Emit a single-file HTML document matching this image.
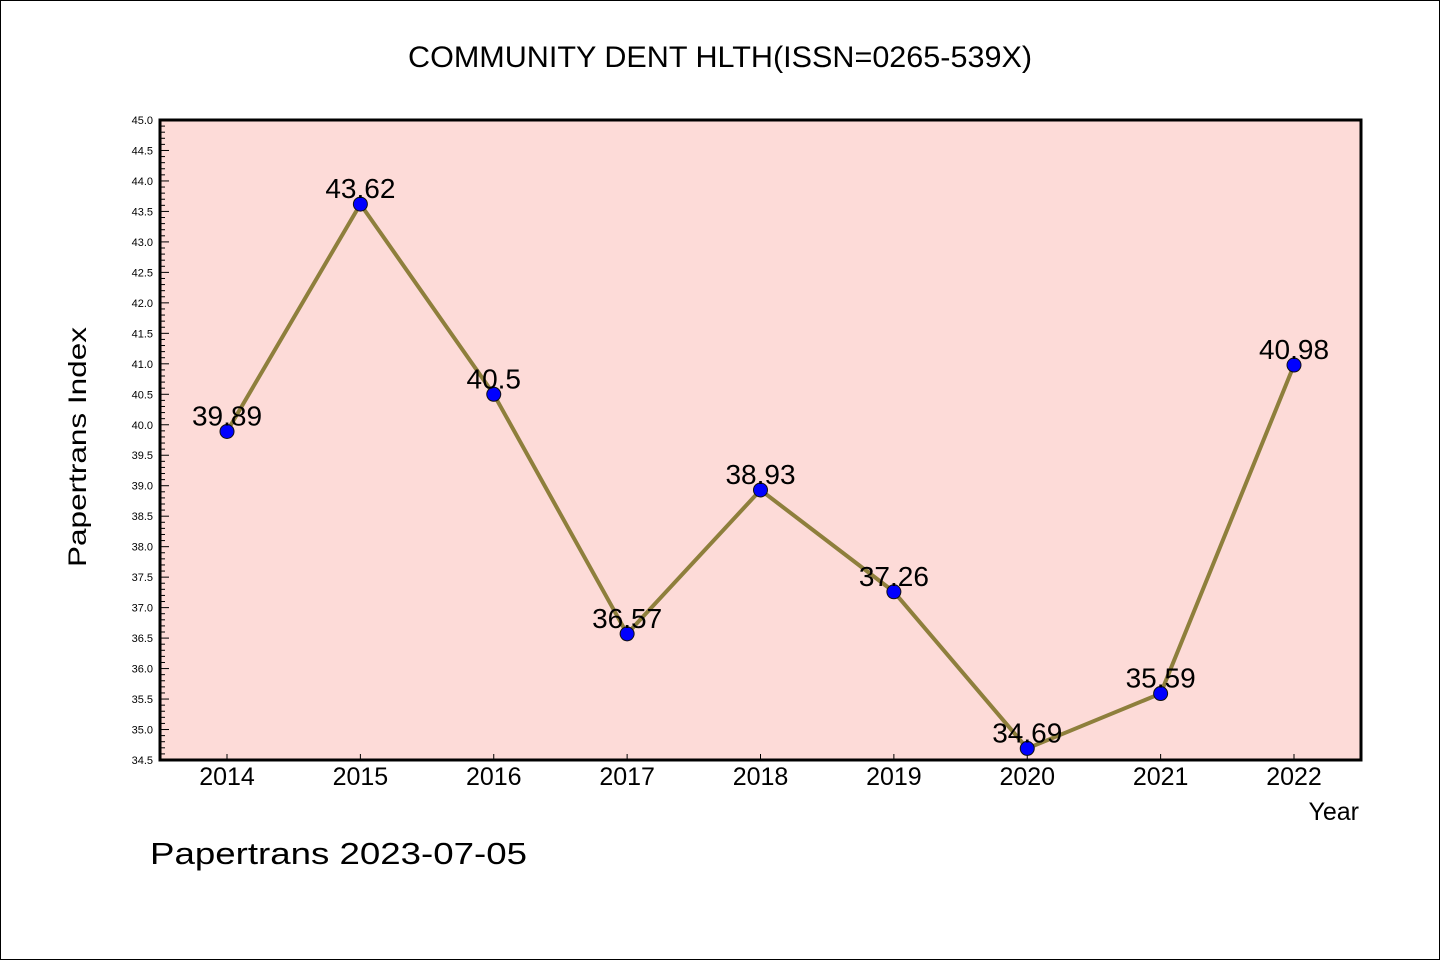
<!DOCTYPE html>
<html><head><meta charset="utf-8"><style>
html,body{margin:0;padding:0;background:#fff}
svg{display:block}
text{font-family:"WenQuanYi Zen Hei","Liberation Sans",sans-serif;fill:#000}
</style></head><body>
<svg id="chart" width="1440" height="960">
<rect x="0.5" y="0.5" width="1439" height="959" fill="#fff" stroke="#000"/>
<text x="720" y="67" text-anchor="middle" font-size="30" textLength="624" lengthAdjust="spacingAndGlyphs">COMMUNITY DENT HLTH(ISSN=0265-539X)</text>
<rect x="160" y="120" width="1201" height="640" fill="#fddbd8"/>
<g id="ticks"></g>
<g id="series"></g>
<rect x="160" y="120" width="1201" height="640" fill="none" stroke="#000" stroke-width="3"/>
<text x="86" y="447" font-size="25" text-anchor="middle" transform="rotate(-90 86 447)" textLength="240" lengthAdjust="spacingAndGlyphs">Papertrans Index</text>
<text x="1359" y="820" font-size="25" text-anchor="end">Year</text>
<text x="150" y="864" font-size="31" textLength="377" lengthAdjust="spacingAndGlyphs">Papertrans 2023-07-05</text>
</svg>
<script>
const years=["2014","2015","2016","2017","2018","2019","2020","2021","2022"];
const values=[39.89,43.62,40.5,36.57,38.93,37.26,34.69,35.59,40.98];
const labels=["39.89","43.62","40.5","36.57","38.93","37.26","34.69","35.59","40.98"];
const yMin=34.5,yMax=45.0;
const NS="http://www.w3.org/2000/svg";
const L=160,R=1361,T=120,B=760;
function y(v){return B-(v-yMin)/(yMax-yMin)*(B-T);}
function x(i){return 227+i*(1294-227)/(years.length-1);}
function mk(tag,attrs,parent){const e=document.createElementNS(NS,tag);for(const k in attrs)e.setAttribute(k,attrs[k]);parent.appendChild(e);return e;}
const tg=document.getElementById('ticks');
for(let k=0;k<=Math.round((yMax-yMin)*10);k++){
  const v=yMin+k/10, yy=y(v), major=k%5===0;
  const t=mk('line',{x1:L,x2:L+(major?9:5),y1:yy,y2:yy,stroke:'#000','stroke-width':1},tg);
  
  
  if(major){
    const tx=mk('text',{x:153,y:yy+4,'font-size':11,'text-anchor':'end'},tg);
    tx.textContent=v.toFixed(1);
    
    
  }
}
years.forEach((yr,i)=>{
  const t=mk('line',{x1:x(i),x2:x(i),y1:B,y2:B-6,stroke:'#000','stroke-width':1},tg);
  
  
  const tx=mk('text',{x:x(i),y:785,'font-size':25,'text-anchor':'middle'},tg);
  tx.textContent=yr;
  
  
});
const sg=document.getElementById('series');
const line=mk('polyline',{points:values.map((v,i)=>x(i)+','+y(v)).join(' '),fill:'none',stroke:'#8e7f3c','stroke-width':4,'stroke-linejoin':'round'},sg);


values.forEach((v,i)=>{
  const c=mk('circle',{cx:x(i),cy:y(v),r:7,fill:'#0000ff',stroke:'#111','stroke-width':1},sg);
  
  
});
values.forEach((v,i)=>{
  const tx=mk('text',{x:x(i),y:y(v)-6,'font-size':28,'text-anchor':'middle'},sg);
  tx.textContent=labels[i];
  
  
});
</script>
</body></html>
